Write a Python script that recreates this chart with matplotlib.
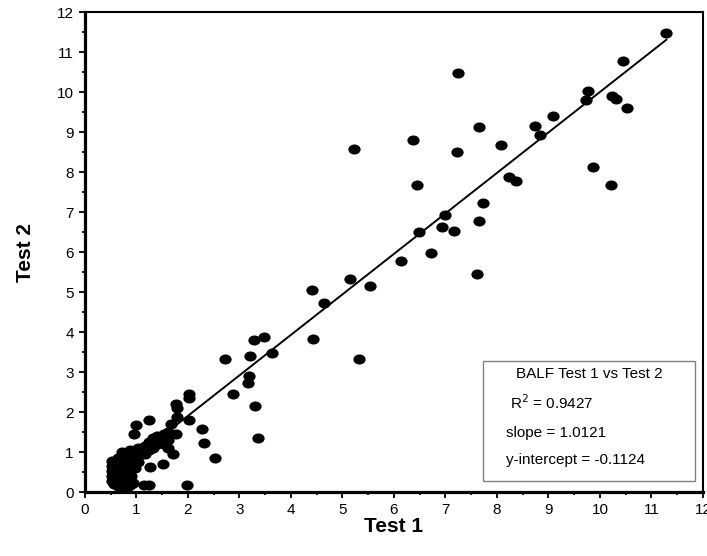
import matplotlib
matplotlib.use('Agg')
import matplotlib.pyplot as plt
from matplotlib.path import Path
from matplotlib.transforms import Affine2D
from matplotlib.patches import Rectangle
from matplotlib.ticker import MultipleLocator

plt.rcParams.update({'font.family': ['Liberation Sans', 'DejaVu Sans'], 'font.size': 11})

# readings (Test 1, Test 2)
test1 = [11.29, 10.44, 7.25, 9.77, 9.72, 10.24, 10.31, 10.52, 9.08, 8.74, 8.84, 7.65,
         6.37, 5.22, 7.22, 8.07, 9.87, 10.21, 6.44, 8.24, 8.36, 7.72, 7.00, 7.66,
         6.94, 7.16, 6.49, 6.72, 6.14, 7.62, 5.15, 5.54, 4.41, 4.65,
         4.43, 5.32, 3.28, 3.48, 3.63, 2.72, 3.21, 3.18, 3.16, 2.88, 3.30, 2.27,
         3.36, 2.53, 2.31, 1.98, 2.02, 2.02, 2.02, 1.77, 1.78, 1.79, 1.68, 1.77,
         1.61, 1.71, 1.52, 1.26, 1.25, 1.00, 0.96, 1.14, 1.24,
         0.52, 0.52, 0.52, 0.52, 0.52, 0.57, 0.57, 0.64, 0.64, 0.64, 0.64,
         0.72, 0.72, 0.72, 0.72, 0.72, 0.80, 0.80, 0.80, 0.80, 0.87, 0.87, 0.87, 0.87,
         0.94, 0.94, 0.94, 1.02, 1.02, 1.02, 1.10, 1.17, 1.17, 1.24, 1.24,
         1.32, 1.32, 1.40, 1.40, 1.47, 1.54, 1.54, 1.62, 1.62,
         0.68, 0.76, 0.84, 0.90, 0.60, 0.98]
test2 = [11.48, 10.79, 10.47, 10.03, 9.80, 9.90, 9.84, 9.61, 9.41, 9.16, 8.94, 9.14,
         8.81, 8.58, 8.51, 8.69, 8.13, 7.68, 7.68, 7.88, 7.78, 7.23, 6.92, 6.79,
         6.63, 6.54, 6.50, 5.99, 5.78, 5.46, 5.33, 5.16, 5.05, 4.72,
         3.83, 3.33, 3.81, 3.88, 3.48, 3.34, 3.41, 2.91, 2.72, 2.45, 2.15, 1.58,
         1.36, 0.86, 1.22, 0.18, 2.46, 2.35, 1.80, 2.20, 2.10, 1.88, 1.70, 1.46,
         1.30, 0.95, 0.70, 0.62, 1.81, 1.68, 1.45, 0.17, 0.17,
         0.78, 0.65, 0.52, 0.40, 0.28, 0.70, 0.20, 0.85, 0.60, 0.45, 0.15,
         1.00, 0.75, 0.55, 0.30, 0.12, 0.95, 0.65, 0.22, 0.07, 1.05, 0.85, 0.70, 0.17,
         1.00, 0.80, 0.22, 1.10, 0.90, 0.75, 1.00, 1.15, 0.95, 1.25, 1.05,
         1.10, 1.35, 1.20, 1.40, 1.30, 1.45, 1.20, 1.50, 1.10,
         0.40, 0.45, 0.50, 0.40, 0.35, 0.60]

slope = 1.0121
intercept = -0.1124
r2 = 0.9427

fig = plt.figure(figsize=(7.07, 5.56), dpi=100)
ax = fig.add_axes([0.1202, 0.1146, 0.8741, 0.8633])

# slightly wide dots, like the source
dot = Path.unit_circle().transformed(Affine2D().scale(1.22, 1.0))

xs = [min(test1), max(test1)]
ax.plot(xs, [slope * x + intercept for x in xs], color='black', lw=1.4, zorder=2)
ax.scatter(test1, test2, marker=dot, s=78, color='black', lw=0, zorder=3)

ax.set_xlim(0, 12)
ax.set_ylim(0, 12)
ax.xaxis.set_major_locator(MultipleLocator(1))
ax.xaxis.set_minor_locator(MultipleLocator(0.5))
ax.yaxis.set_major_locator(MultipleLocator(1))
ax.yaxis.set_minor_locator(MultipleLocator(0.5))
ax.tick_params(which='major', direction='out', length=4.5, width=1.3, labelsize=11)
ax.tick_params(which='minor', direction='out', length=2.5, width=1.3)
ax.tick_params(top=False, right=False, which='both')

for side in ['left', 'bottom']:
    ax.spines[side].set_linewidth(2.3)
for side in ['top', 'right']:
    ax.spines[side].set_linewidth(1.5)

ax.set_xlabel('Test 1', fontsize=15, fontweight='bold', labelpad=0)
ax.set_ylabel('Test 2', fontsize=15, fontweight='bold', labelpad=16)

# stats box
ax.add_patch(Rectangle((0.644, 0.0235), 0.343, 0.25, transform=ax.transAxes,
                       fill=False, edgecolor='#808080', lw=1.0, zorder=4))
ax.text(0.8155, 0.246, 'BALF Test 1 vs Test 2', transform=ax.transAxes,
        ha='center', va='center', fontsize=11)
ax.text(0.688, 0.187, 'R$^2$ = {:.4f}'.format(r2), transform=ax.transAxes,
        ha='left', va='center', fontsize=11)
ax.text(0.681, 0.124, 'slope = {:.4f}'.format(slope), transform=ax.transAxes,
        ha='left', va='center', fontsize=11)
ax.text(0.681, 0.067, 'y-intercept = {:.4f}'.format(intercept), transform=ax.transAxes,
        ha='left', va='center', fontsize=11)

plt.savefig('out.png', dpi=100)
